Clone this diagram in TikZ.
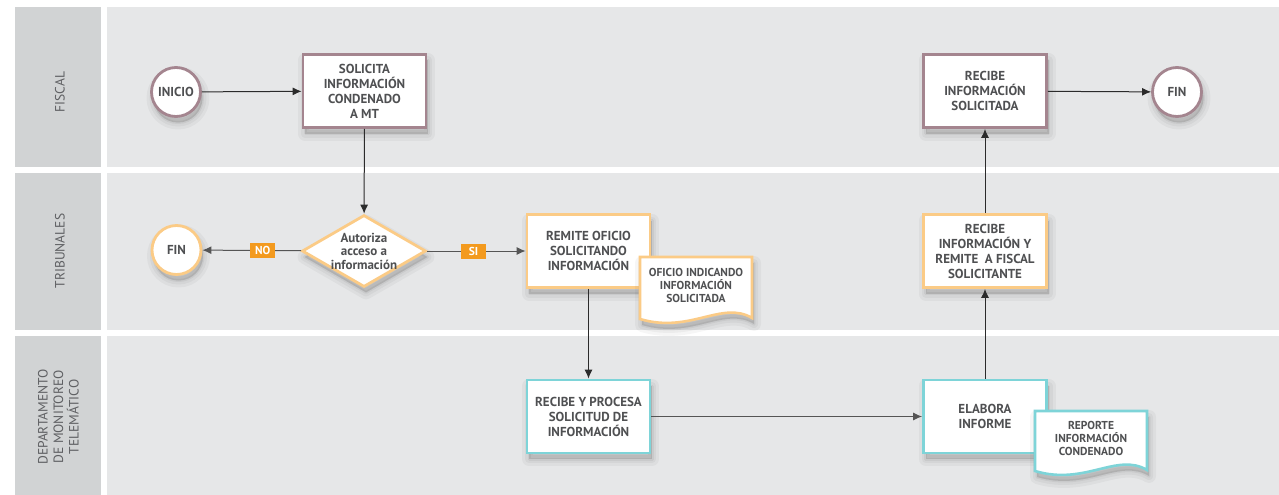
\documentclass[tikz,border=0pt]{standalone}
\usepackage{fontspec}
\setmainfont{PT Sans}
\usetikzlibrary{shapes.geometric,arrows.meta,calc}
\definecolor{labelgray}{HTML}{D1D3D4}
\definecolor{lanegray}{HTML}{E6E7E8}
\definecolor{mauve}{HTML}{A4858F}
\definecolor{orangeL}{HTML}{FBCB86}
\definecolor{teal}{HTML}{7ED4D8}
\definecolor{tagorange}{HTML}{F39A1E}
\definecolor{textgray}{HTML}{4F5052}
\definecolor{lanetext}{HTML}{5F6063}
\definecolor{linecol}{HTML}{2B2B2B}
\tikzset{
  lanelabel/.style={rotate=90, align=center, text=lanetext, font=\fontsize{13.5}{15.5}\selectfont},
  shl/.style={fill=black, draw=black, opacity=#1, line join=round,
    transform canvas={xshift=2pt,yshift=-6pt}},
  sh/.style={preaction={shl=0.035, line width=14pt},
             preaction={shl=0.04, line width=8pt},
             preaction={shl=0.05, line width=3pt}},
  proc/.style={draw, line width=2.8pt, fill=white, minimum width=123pt, minimum height=73pt,
    inner sep=0pt, align=center, text=textgray, font=\bfseries\fontsize{13}{15}\selectfont, sh},
  term/.style={circle, draw, line width=2.8pt, fill=white, minimum size=49pt, inner sep=0pt,
    text=textgray, font=\bfseries\fontsize{13}{13}\selectfont, sh},
  decis/.style={diamond, draw, line width=2.8pt, fill=white, minimum width=124pt, minimum height=72pt,
    inner sep=0pt, sh},
  dectext/.style={align=center, text=textgray, font=\bfseries\fontsize{13}{13.5}\selectfont},
  docbox/.style={minimum width=112pt, minimum height=60pt, inner sep=0pt, align=center,
    text=textgray, font=\bfseries\fontsize{11.5}{13}\selectfont},
  docshape/.style={draw, line width=2.6pt, fill=white, line join=miter, sh},
  arr/.style={draw=linecol, line width=1pt, -{Latex[length=9pt,width=8pt]}},
  arrg/.style={draw=linecol!80, line width=1pt, -{Latex[length=9pt,width=8pt]}},
  tag/.style={fill=tagorange, text=white, font=\bfseries\fontsize{11.5}{11}\selectfont,
    minimum width=25pt, minimum height=15pt, inner sep=0pt}
}
\begin{document}
\begin{tikzpicture}[x=1pt,y=-1pt]
\useasboundingbox (0,0) rectangle (1279,495);
\fill[white] (0,0) rectangle (1279,495);
% lanes
\fill[labelgray] (15,7) rectangle (101,167);
\fill[labelgray] (15,173) rectangle (101,330);
\fill[labelgray] (15,336) rectangle (101,495);
\fill[lanegray] (107,7) rectangle (1279,167);
\fill[lanegray] (107,173) rectangle (1279,330);
\fill[lanegray] (107,336) rectangle (1279,495);
\node[lanelabel] (l1) at (60,92) {FISCAL};
\node[lanelabel] (l2) at (60,251) {TRIBUNALES};
\node[lanelabel] (l3) at (58.5,417) {DEPARTAMENTO\\DE MONITOREO\\TELEMÁTICO};
% nodes
\node[term, draw=mauve] (ini) at (176,92) {INICIO};
\node[proc, draw=mauve] (sol) at (364.5,91) {SOLICITA\\INFORMACIÓN\\CONDENADO\\A MT};
\node[decis, draw=orangeL] (dec) at (364,251) {};
\node[dectext] (dect) at (dec) {Autoriza\\acceso a\\información};
\node[term, draw=orangeL] (fin1) at (176.5,250) {FIN};
\node[proc, draw=orangeL] (rem) at (588.5,251) {REMITE OFICIO\\SOLICITANDO\\INFORMACIÓN};
\node[proc, draw=teal] (rp) at (588.5,416.5) {RECIBE Y PROCESA\\SOLICITUD DE\\INFORMACIÓN};
\node[proc, draw=teal] (ela) at (985,416.5) {ELABORA\\INFORME};
\node[proc, draw=orangeL] (rir) at (985,251) {RECIBE\\INFORMACIÓN Y\\REMITE\ \ A FISCAL\\SOLICITANTE};
\node[proc, draw=mauve] (ris) at (985,91) {RECIBE\\INFORMACIÓN\\SOLICITADA};
\node[term, draw=mauve] (fin2) at (1177,92) {FIN};
% connectors
\draw[arr] (ini) -- (sol);
\draw[arr] (sol) -- (dec);
\draw[arrg] (dec) -- node[pos=0.39, tag] (tno) {NO} (fin1);
\draw[arrg] (dec) -- node[pos=0.47, tag] (tsi) {SI} (rem);
\draw[arr] (rem) -- (rp);
\draw[arrg] (rp) -- (ela);
\draw[arr] (ela) -- (rir);
\draw[arr] (rir) -- (ris);
\draw[arr] (ris) -- (fin2);
% documents
\path[docshape, draw=orangeL] (640,257) -- (752,257) -- (752,318)
  .. controls (722,300) and (690,334) .. (640,319) -- cycle;
\node[docbox] (doc1) at (696,285) {OFICIO INDICANDO\\INFORMACIÓN\\SOLICITADA};
\path[docshape, draw=teal] (1035,411) -- (1147,411) -- (1147,470)
  .. controls (1117,452) and (1085,486) .. (1035,471) -- cycle;
\node[docbox] (doc2) at (1091,438) {REPORTE\\INFORMACIÓN\\CONDENADO};
\end{tikzpicture}
\end{document}
